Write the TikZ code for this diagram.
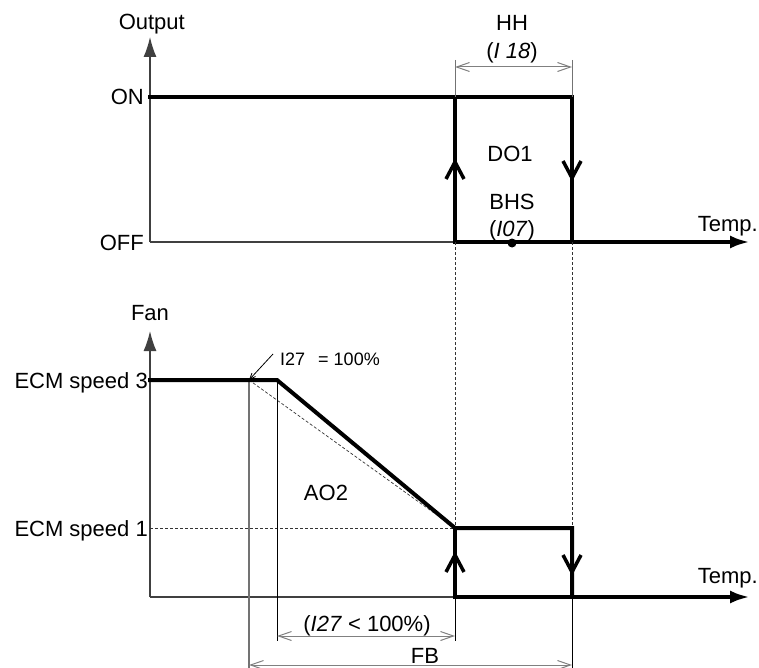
\documentclass[tikz,border=0pt]{standalone}
\usepackage{fontspec}
\setmainfont{Liberation Sans}
\usetikzlibrary{arrows.meta}
\newcommand{\dig}[1]{\textit{#1}}
\begin{document}
\begin{tikzpicture}[x=1pt,y=-1pt,
  thickline/.style={line width=4pt, line join=miter},
  axisline/.style={line width=1.5pt, draw=black!75},
  axisarrow/.style={-{Latex[length=20pt,width=13pt]}},
  barb/.style={line width=3.5pt, line join=miter},
  dimline/.style={draw=black!50, line width=1pt,
     {Straight Barb[length=13pt,width=9pt]}-{Straight Barb[length=13pt,width=9pt]}},
  extline/.style={draw=black!55, line width=1pt},
  extdark/.style={draw=black, line width=0.8pt},
  dashline/.style={draw=black!80, line width=0.7pt, dash pattern=on 3pt off 2pt},
  lbl/.style={font=\fontsize{22}{26}\selectfont, inner sep=0pt},
  smalllbl/.style={font=\fontsize{18}{22}\selectfont, inner sep=0pt}]
\useasboundingbox (0,0) rectangle (759,668);
% ---------- coordinates, top chart
\coordinate (O1) at (150,242);
\coordinate (Y1) at (150,37);
\coordinate (X1) at (750,242);
\coordinate (ONs) at (148,97);
\coordinate (A1) at (455,97);
\coordinate (A2) at (572,97);
\coordinate (B1) at (455,242);
\coordinate (B2) at (572,242);
\coordinate (upA) at (455,162);
\coordinate (dnA) at (572,178);
\coordinate (bhs) at (512,243);
\coordinate (hhL) at (455,67);
\coordinate (hhR) at (572,67);
\coordinate (hhLt) at (455,60);
\coordinate (hhRt) at (572,60);
% ---------- coordinates, bottom chart
\coordinate (O2) at (150,597);
\coordinate (Y2) at (150,331);
\coordinate (X2) at (750,597);
\coordinate (P0) at (148,380);
\coordinate (Q)  at (249,380);
\coordinate (P1) at (277,380);
\coordinate (P2) at (455,528);
\coordinate (P3) at (572,528);
\coordinate (P4) at (572,597);
\coordinate (P5) at (455,597);
\coordinate (S1) at (150,528);
\coordinate (upB) at (455,555);
\coordinate (dnB) at (572,572);
\coordinate (lead) at (273,354);
\coordinate (ltL) at (277,636);
\coordinate (ltR) at (455,636);
\coordinate (ltLb) at (277,641);
\coordinate (ltRb) at (455,641);
\coordinate (fbL) at (249,665);
\coordinate (fbR) at (572,665);
\coordinate (fbLb) at (249,668);
\coordinate (fbRb) at (572,668);

% ---------- top chart
\draw[axisline, axisarrow] (O1) -- (Y1);
\draw[axisline] (O1) -- (B1);
\draw[thickline] (ONs) -- (A2) -- (B2);
\draw[thickline, axisarrow] (A1) -- (B1) -- (X1);
\draw[barb] (upA) ++(-9,17) -- (upA) -- ++(9,17);
\draw[barb] (dnA) ++(-9,-17) -- (dnA) -- ++(9,-17);
\fill (bhs) circle (4.5pt);
\draw[extline] (hhLt) -- (A1);
\draw[extline] (hhRt) -- (A2);
\draw[dimline] (hhL) -- (hhR);
\draw[dashline] (B1) -- (P2);
\draw[dashline] (B2) -- (P3);

% ---------- bottom chart
\draw[axisline, axisarrow] (O2) -- (Y2);
\draw[axisline] (O2) -- (P5);
\draw[dashline] (S1) -- (P2);
\draw[dashline] (Q) -- (P2);
\draw[extline, line width=1.5pt] (Q) -- (fbLb);
\draw[extdark] (P1) -- (ltLb);
\draw[extdark] (P5) -- (ltRb);
\draw[extdark] (P4) -- (fbRb);
\draw[thickline] (P0) -- (P1) -- (P2) -- (P3) -- (P4);
\draw[thickline, axisarrow] (P2) -- (P5) -- (X2);
\draw[barb] (upB) ++(-9,17) -- (upB) -- ++(9,17);
\draw[barb] (dnB) ++(-9,-17) -- (dnB) -- ++(9,-17);
\draw[line width=0.8pt, -{Straight Barb[length=6pt,width=5pt]}] (lead) -- (Q);
\draw[dimline] (ltL) -- (ltR);
\draw[dimline] (fbL) -- (fbR);

% ---------- labels
\node[lbl, anchor=base east] (outputlbl) at (185,30) {Output};
\node[lbl, anchor=east] (onlbl) at (144,97) {ON};
\node[lbl, anchor=east] (offlbl) at (144,243) {OFF};
\node[lbl, anchor=base] (hhlbl) at (512,31) {HH};
\node[lbl, anchor=base] (i18lbl) at (512,59) {(\dig{I 18})};
\node[lbl, anchor=base] (do1lbl) at (510,162) {DO1};
\node[lbl, anchor=base] (bhslbl) at (512,210) {BHS};
\node[lbl, anchor=base] (i07lbl) at (512,236) {(\dig{I07})};
\node[lbl, anchor=base east] (temp1) at (758,231) {Temp.};
\node[lbl, anchor=base] (fanlbl) at (150,320) {Fan};
\node[lbl, anchor=base east] (s3lbl) at (148,388) {ECM speed 3};
\node[lbl, anchor=base east] (s1lbl) at (148,536) {ECM speed 1};
\node[smalllbl, anchor=base west] (i27eq) at (280,365) {I27\hspace{13pt}= 100\%};
\node[lbl, anchor=base] (ao2) at (326,500) {AO2};
\node[lbl, anchor=base east] (temp2) at (758,583) {Temp.};
\node[lbl, anchor=base] (i27lt) at (367,631) {(\dig{I27} < 100\%)};
\node[lbl, anchor=base] (fblbl) at (425,663) {FB};
\end{tikzpicture}
\end{document}
